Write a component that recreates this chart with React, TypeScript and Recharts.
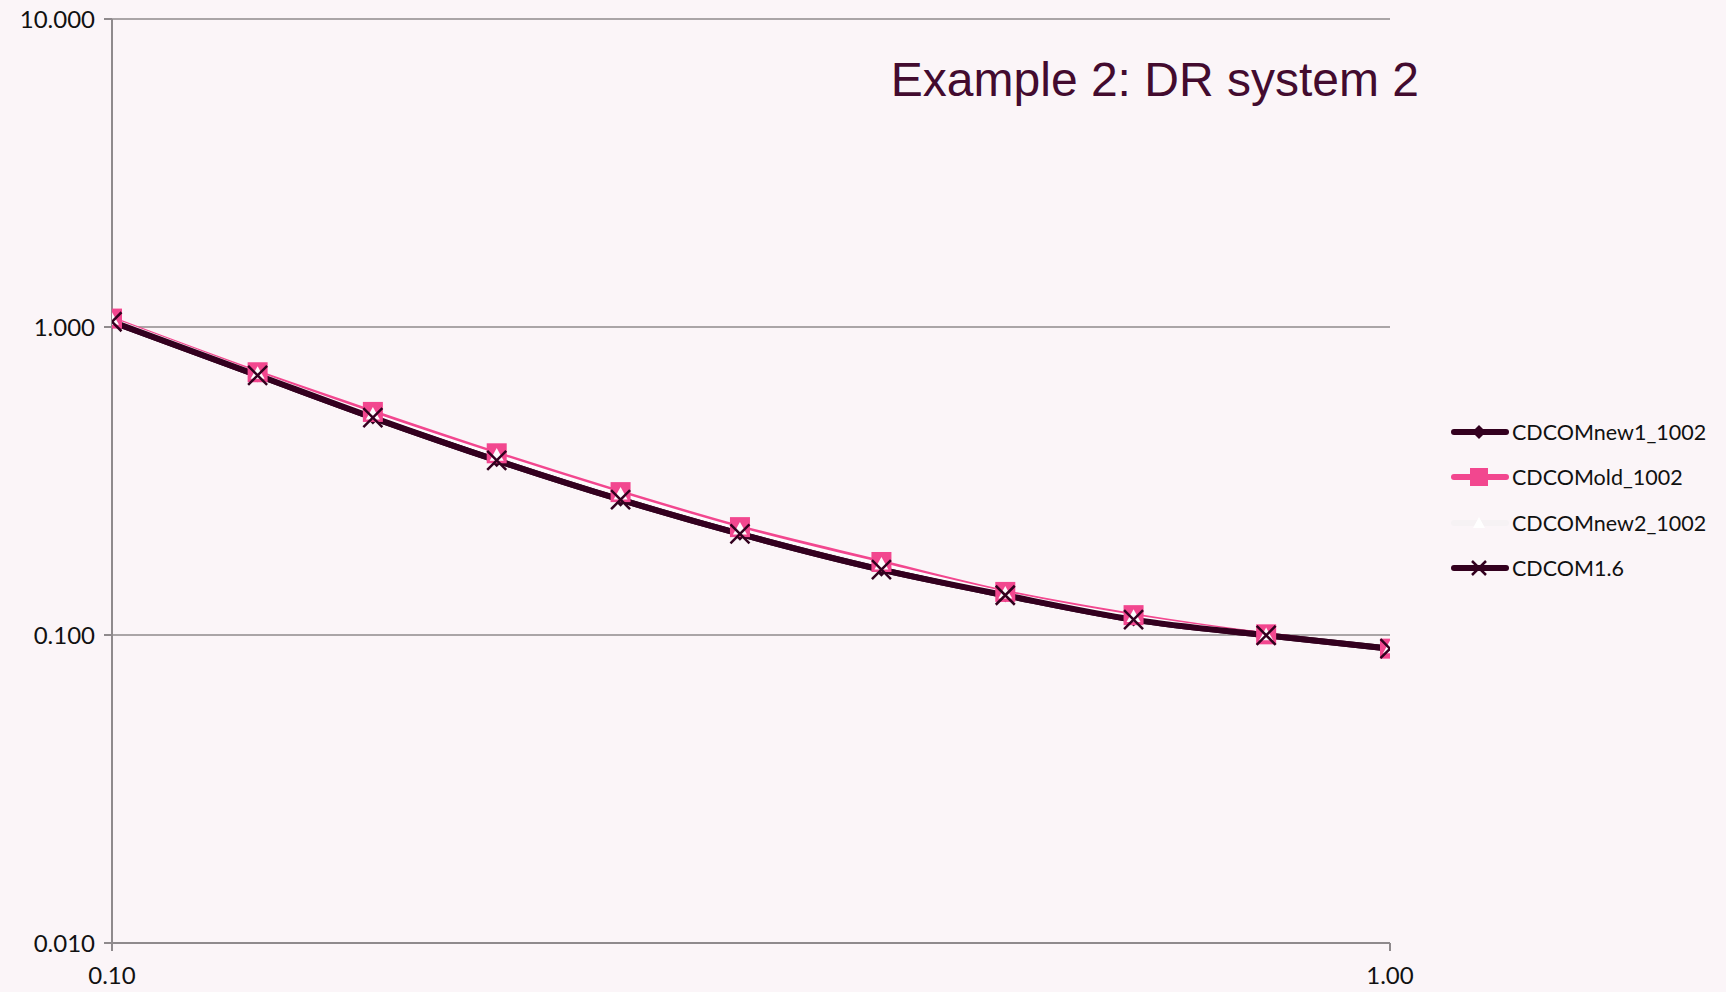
import { LineChart, Line, XAxis, YAxis, CartesianGrid } from 'recharts';

// x values (log axis) and the four series
const xValues = [0.1, 0.13, 0.16, 0.2, 0.25, 0.31, 0.4, 0.5, 0.63, 0.8, 1.0];
const cdcomNew1 = [1.04, 0.697, 0.508, 0.369, 0.275, 0.213, 0.163, 0.1346, 0.1122, 0.0998, 0.0903];
const cdcomOld = [1.065, 0.713, 0.53, 0.389, 0.291, 0.224, 0.1726, 0.138, 0.116, 0.1005, 0.0903];
const cdcomNew2 = [1.06, 0.708, 0.522, 0.384, 0.287, 0.221, 0.17, 0.137, 0.115, 0.1003, 0.091];
const cdcom16 = [1.04, 0.697, 0.508, 0.369, 0.275, 0.213, 0.163, 0.1346, 0.1122, 0.0998, 0.0903];

const xTicks = [0.1, 1.0];
const yTicks = [0.01, 0.1, 1, 10];

const seriesNames = ['CDCOMnew1_1002', 'CDCOMold_1002', 'CDCOMnew2_1002', 'CDCOM1.6'];

const DARK = '#33001f';
const PINK = '#f2478f';
const WHITE = '#fdfcfd';
const GRID = '#8f8a8d';
const BG = '#fbf5f8';

const data = xValues.map((x, i) => ({
  x,
  new1: cdcomNew1[i],
  old: cdcomOld[i],
  new2: cdcomNew2[i],
  v16: cdcom16[i],
}));

const Diamond = (props: any) => {
  const { cx, cy, index } = props;
  const r = 7;
  return <path key={`d-${index}`} d={`M${cx},${cy - r}L${cx + r},${cy}L${cx},${cy + r}L${cx - r},${cy}Z`} fill={DARK} />;
};

const Square = (props: any) => {
  const { cx, cy, index } = props;
  const s = 20;
  return <rect key={`s-${index}`} x={cx - s / 2} y={cy - s / 2} width={s} height={s} fill={PINK} />;
};

const Triangle = (props: any) => {
  const { cx, cy, index } = props;
  const r = 7;
  return <path key={`t-${index}`} d={`M${cx},${cy - r}L${cx + r},${cy + r * 0.8}L${cx - r},${cy + r * 0.8}Z`} fill={WHITE} />;
};

const Cross = (props: any) => {
  const { cx, cy, index } = props;
  const r = 9.5;
  return (
    <path
      key={`x-${index}`}
      d={`M${cx - r},${cy - r}L${cx + r},${cy + r}M${cx + r},${cy - r}L${cx - r},${cy + r}`}
      stroke={DARK}
      strokeWidth={2.5}
      fill="none"
    />
  );
};

const legendItems = [
  { name: seriesNames[0], color: DARK, marker: 'diamond' },
  { name: seriesNames[1], color: PINK, marker: 'square' },
  { name: seriesNames[2], color: '#f6f2f4', marker: 'triangle' },
  { name: seriesNames[3], color: DARK, marker: 'cross' },
];

function LegendIcon({ color, marker }: { color: string; marker: string }) {
  const cx = 28;
  const cy = 10;
  let m = null;
  if (marker === 'diamond') m = <path d={`M${cx},${cy - 7}L${cx + 7},${cy}L${cx},${cy + 7}L${cx - 7},${cy}Z`} fill={DARK} />;
  if (marker === 'square') m = <rect x={cx - 9} y={cy - 9} width={18} height={18} fill={PINK} />;
  if (marker === 'triangle') m = <path d={`M${cx},${cy - 6}L${cx + 6},${cy + 5}L${cx - 6},${cy + 5}Z`} fill="#ffffff" />;
  if (marker === 'cross')
    m = (
      <path
        d={`M${cx - 7},${cy - 7}L${cx + 7},${cy + 7}M${cx + 7},${cy - 7}L${cx - 7},${cy + 7}`}
        stroke={DARK}
        strokeWidth={2.5}
      />
    );
  return (
    <svg width={58} height={20} style={{ display: 'block' }}>
      <line x1={3} y1={cy} x2={55} y2={cy} stroke={color} strokeWidth={6} strokeLinecap="round" />
      {m}
    </svg>
  );
}

export default function App() {
  return (
    <div style={{ position: 'absolute', left: 0, top: 0, width: 1726, height: 992, background: BG, overflow: 'hidden' }}>
      <div
        style={{
          position: 'absolute',
          right: 1726 - 1419,
          top: 56,
          fontFamily: '"Liberation Sans", Arial, sans-serif',
          fontSize: 48,
          lineHeight: 1,
          color: '#430b2f',
          whiteSpace: 'nowrap',
        }}
      >
        Example 2: DR system 2
      </div>
      <div style={{ position: 'absolute', left: 1451, top: 409 }}>
        {legendItems.map(item => (
          <div key={item.name} style={{ display: 'flex', alignItems: 'center', height: 45.5 }}>
            <LegendIcon color={item.color} marker={item.marker} />
            <span style={{ marginLeft: 3, fontFamily: 'Lato, sans-serif', fontSize: 21.5, color: '#111' }}>{item.name}</span>
          </div>
        ))}
      </div>
      <LineChart width={1726} height={992} data={data} margin={{ top: 19, right: 336, bottom: 9, left: 0 }}>
        <CartesianGrid vertical={false} stroke={GRID} strokeWidth={1.5} />
        <XAxis
          dataKey="x"
          type="number"
          scale="log"
          domain={[0.1, 1]}
          ticks={xTicks}
          tickFormatter={(v: number) => v.toFixed(2)}
          height={40}
          tickSize={8}
          tickMargin={16}
          axisLine={{ stroke: GRID, strokeWidth: 2 }}
          tickLine={{ stroke: GRID, strokeWidth: 2 }}
          tick={{ fill: '#111', fontSize: 24, fontFamily: 'Lato, sans-serif' }}
          allowDataOverflow
        />
        <YAxis
          type="number"
          scale="log"
          domain={[0.01, 10]}
          ticks={yTicks}
          tickFormatter={(v: number) => v.toFixed(3)}
          width={112}
          tickSize={8}
          tickMargin={9}
          axisLine={{ stroke: GRID, strokeWidth: 2 }}
          tickLine={{ stroke: GRID, strokeWidth: 2 }}
          tick={{ fill: '#111', fontSize: 24, fontFamily: 'Lato, sans-serif' }}
          allowDataOverflow
        />
        <Line dataKey="new1" name={seriesNames[0]} type="monotone" stroke={DARK} strokeWidth={6} dot={Diamond} activeDot={false} isAnimationActive={false} />
        <Line dataKey="old" name={seriesNames[1]} type="monotone" stroke={PINK} strokeWidth={4} dot={Square} activeDot={false} isAnimationActive={false} />
        <Line dataKey="new2" name={seriesNames[2]} type="monotone" stroke={WHITE} strokeWidth={2.5} dot={Triangle} activeDot={false} isAnimationActive={false} />
        <Line dataKey="v16" name={seriesNames[3]} type="monotone" stroke={DARK} strokeWidth={6} dot={Cross} activeDot={false} isAnimationActive={false} />
      </LineChart>
    </div>
  );
}
